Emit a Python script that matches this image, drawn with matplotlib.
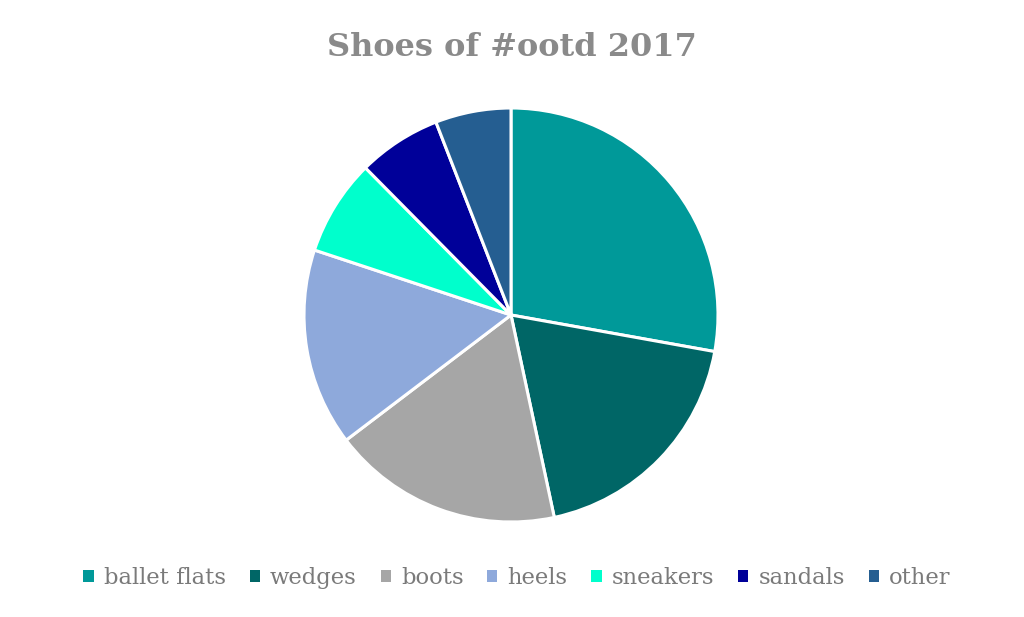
import matplotlib
matplotlib.use("Agg")
import matplotlib.pyplot as plt
from matplotlib.patches import Patch

categories = ["ballet flats", "wedges", "boots", "heels", "sneakers", "sandals", "other"]
values = [27.8, 18.8, 18.0, 15.4, 7.5, 6.5, 5.9]
colors = ["#009999", "#006666", "#A6A6A6", "#8EA9DB", "#00FFCC", "#000099", "#255E91"]
title = "Shoes of #ootd 2017"

W, H = 1024, 617
fig = plt.figure(figsize=(W / 100, H / 100), dpi=100)
ax = fig.add_axes([0, 0, 1, 1])
ax.set_xlim(0, W)
ax.set_ylim(0, H)
ax.set_aspect("equal")
ax.axis("off")

ax.pie(values, colors=colors, startangle=90, counterclock=False,
       center=(511, H - 315), radius=207,
       wedgeprops=dict(edgecolor="white", linewidth=2.2))
ax.set_xlim(0, W)
ax.set_ylim(0, H)

fig.text(0.5, 1 - 47 / H, title, ha="center", va="center",
         fontsize=23, fontweight="bold", family="DejaVu Serif", color="#8a8a8a")

handles = [Patch(facecolor=c, edgecolor="none") for c in colors]
leg = fig.legend(handles, categories, loc="center", bbox_to_anchor=(517 / W, 1 - 578 / H),
                 ncol=7, frameon=False, handlelength=0.45, handleheight=0.45,
                 handletextpad=0.45, columnspacing=1.05,
                 prop=dict(family="DejaVu Serif", size=16.3))
for t in leg.get_texts():
    t.set_color("#7a7a7a")

fig.savefig("out.png", dpi=100, facecolor="white")
